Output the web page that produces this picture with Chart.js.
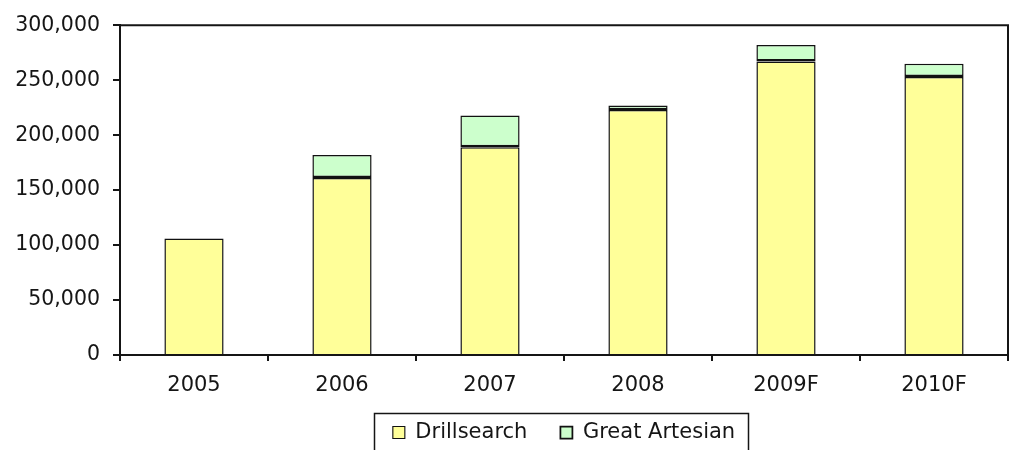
<!DOCTYPE html>
<html>
<head>
<meta charset="utf-8">
<script src="https://cdn.jsdelivr.net/npm/chart.js@4/dist/chart.umd.min.js"></script>
<style>
  html, body { margin: 0; padding: 0; background: #ffffff; }
  #wrap { width: 1014px; height: 450px; }
</style>
</head>
<body>
<div id="wrap"><canvas id="c" width="1014" height="450"></canvas></div>
<script>
// Annual volumes by company
const years = ['2005', '2006', '2007', '2008', '2009F', '2010F'];
const drillsearch = [106000, 161000, 189000, 223000, 267000, 253000];
const greatArtesian = [null, 21000, 29000, 4000, 15000, 12000];
const yMin = 0;
const yMax = 300000;
const yStep = 50000;

const FONT = 'DejaVu Sans';
const INK = '#151515';
const EDGE = '#111111';

// Frame around the plot area (top and right edges; axes draw left/bottom)
const plotFrame = {
  id: 'plotFrame',
  afterDatasetsDraw(chart) {
    const { ctx, chartArea: a } = chart;
    ctx.save();
    ctx.strokeStyle = INK;
    ctx.lineWidth = 2;
    ctx.beginPath();
    ctx.moveTo(a.left, a.top);
    ctx.lineTo(a.right, a.top);
    ctx.lineTo(a.right, a.bottom);
    ctx.stroke();
    ctx.restore();
  }
};

// Let the category labels run below the (compact) x scale box
const xLabelRoom = {
  id: 'xLabelRoom',
  afterLayout(chart) {
    const x = chart.scales.x;
    x.bottom = chart.height;
    x.height = x.bottom - x.top;
  }
};

// Box drawn around the legend entries
const legendFrame = {
  id: 'legendFrame',
  afterDraw(chart) {
    const lg = chart.legend;
    if (!lg || !lg.legendHitBoxes || !lg.legendHitBoxes.length) return;
    const hb = lg.legendHitBoxes;
    const first = hb[0], last = hb[hb.length - 1];
    const left = Math.round(first.left - 19) + 0.5;
    const right = Math.round(last.left + last.width + 13) + 0.5;
    const top = Math.round(first.top + first.height / 2 - 20) + 0.5;
    const { ctx } = chart;
    ctx.save();
    ctx.strokeStyle = INK;
    ctx.lineWidth = 1.5;
    ctx.beginPath();
    ctx.moveTo(left, chart.height + 5);
    ctx.lineTo(left, top);
    ctx.lineTo(right, top);
    ctx.lineTo(right, chart.height + 5);
    ctx.stroke();
    ctx.restore();
  }
};

new Chart(document.getElementById('c'), {
  type: 'bar',
  data: {
    labels: years,
    datasets: [
      {
        label: 'Drillsearch',
        data: drillsearch,
        backgroundColor: '#FFFF99',
        borderColor: EDGE,
        borderSkipped: false,
        borderWidth: { top: 1.5, left: 1.5, right: 1.5, bottom: 0 },
        barPercentage: 0.4,
        categoryPercentage: 1.0
      },
      {
        label: 'Great Artesian',
        data: greatArtesian,
        backgroundColor: '#CCFFCC',
        borderColor: EDGE,
        borderSkipped: false,
        borderWidth: { top: 1.5, left: 1.5, right: 1.5, bottom: 2.5 },
        barPercentage: 0.4,
        categoryPercentage: 1.0
      }
    ]
  },
  options: {
    responsive: false,
    animation: false,
    layout: { padding: { top: 23, right: 6, left: 0, bottom: -3 } },
    scales: {
      x: {
        stacked: true,
        offset: true,
        grid: {
          offset: true,
          drawOnChartArea: false,
          drawTicks: true,
          tickLength: 6,
          color: INK,
          lineWidth: 2
        },
        border: { display: true, color: INK, width: 2 },
        ticks: {
          color: INK,
          font: { family: FONT, size: 21 },
          padding: 12,
          maxRotation: 0
        },
        afterFit(scale) { scale.height = 34; }
      },
      y: {
        stacked: true,
        min: yMin,
        max: yMax,
        grid: {
          drawOnChartArea: false,
          drawTicks: true,
          tickLength: 7,
          color: INK,
          lineWidth: 2
        },
        border: { display: true, color: INK, width: 2 },
        ticks: {
          stepSize: yStep,
          color: INK,
          font: { family: FONT, size: 20.5 },
          padding: 13,
          callback: (v) => Number(v).toLocaleString('en-US')
        },
        afterFit(scale) { scale.width = 120; }
      }
    },
    plugins: {
      legend: {
        position: 'bottom',
        fullSize: false,
        labels: {
          color: INK,
          font: { family: FONT, size: 21 },
          boxWidth: 12,
          boxHeight: 12,
          padding: 33
        }
      },
      tooltip: { enabled: false }
    }
  },
  plugins: [xLabelRoom, plotFrame, legendFrame]
});
</script>
</body>
</html>
